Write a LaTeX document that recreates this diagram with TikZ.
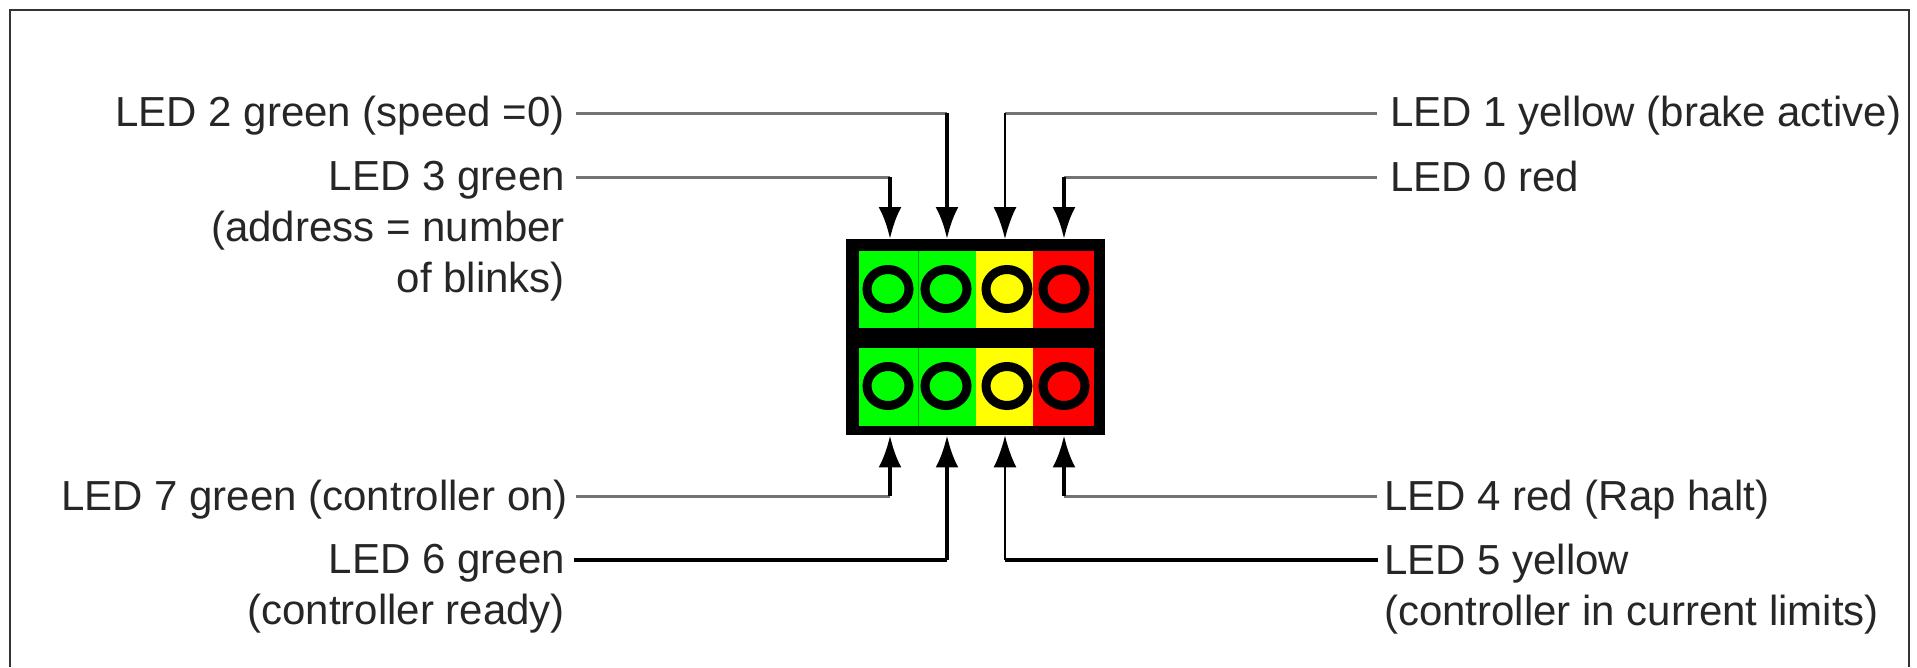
\documentclass[tikz,border=0pt]{standalone}
\usepackage{fontspec}
\setmainfont{Liberation Sans}
\usetikzlibrary{positioning,arrows.meta,shapes.geometric}
\definecolor{ledgreen}{RGB}{0,255,0}
\definecolor{ledyellow}{RGB}{255,255,0}
\definecolor{ledred}{RGB}{255,0,0}
\begin{document}
\begin{tikzpicture}[
	x=1pt, y=-1pt,
	cell/.style={rectangle, draw=none, minimum height=77pt, inner sep=0pt, outer sep=0pt},
	lamp/.style={ellipse, draw=black, line width=9pt, minimum width=42pt, minimum height=39pt, inner sep=0pt},
	lblr/.style={align=right, anchor=north east, inner sep=0pt, font=\fontsize{42}{51}\selectfont, text=black!85},
	lbll/.style={align=left, anchor=north west, inner sep=0pt, font=\fontsize{42}{51}\selectfont, text=black!85},
	wire/.style={draw=black!55, line width=3pt},
	wireb/.style={draw=black, line width=3.5pt},
	tip/.style={draw=black, line width=4.5pt, -{Latex[length=32pt,width=23pt]}},
	tipthin/.style={tip, line width=2.5pt}
	]
	\useasboundingbox (0,0) rectangle (1917,667);
	\draw [line width=2pt, draw=black!80] (10,667) -- (10,10) -- (1909,10) -- (1909,667);
	% housing
	\node (block) [rectangle, fill=black, minimum width=259pt, minimum height=196pt, inner sep=0pt, anchor=north west] at (846,239) {};
	% cells, top row then bottom row
	\foreach \r/\yy/\hh in {t/251/77, b/348/78} {
		\node (\r3) [cell, fill=ledgreen, minimum width=59pt, minimum height=\hh pt, anchor=north west] at (859,\yy) {};
		\node (\r2) [cell, fill=ledgreen, minimum width=58pt, minimum height=\hh pt, right=0pt of \r3] {};
		\node (\r1) [cell, fill=ledyellow, minimum width=57pt, minimum height=\hh pt, right=0pt of \r2] {};
		\node (\r0) [cell, fill=ledred, minimum width=61pt, minimum height=\hh pt, right=0pt of \r1] {};
		\draw [green!65!black, line width=1pt] (\r3.north east) -- (\r3.south east);
	}
	\foreach \r/\yy in {t/289, b/386} {
		\node (\r l3) [lamp, fill=ledgreen] at (888,\yy) {};
		\node (\r l2) [lamp, fill=ledgreen] at (946,\yy) {};
		\node (\r l1) [lamp, fill=ledyellow] at (1007,\yy) {};
		\node (\r l0) [lamp, fill=ledred] at (1064,\yy) {};
	}
	% labels
	\node (led2) [lblr] at (565,96) {LED 2 green (speed =0)};
	\node (led3) [lblr] at (565,161) {LED 3 green\\(address = number\\of blinks)};
	\node (led7) [lblr] at (568,480) {LED 7 green (controller on)};
	\node (led6) [lblr] at (565,544) {LED 6 green\\(controller ready)};
	\node (led1) [lbll] at (1390,96) {LED 1 yellow (brake active)};
	\node (led0) [lbll] at (1390,161) {LED 0 red};
	\node (led4) [lbll] at (1384,480) {LED 4 red (Rap halt)};
	\node (led5) [lbll] at (1384,544) {LED 5 yellow\\(controller in current limits)};
	% wire ends
	\coordinate (w2) at (576,113);
	\coordinate (w3) at (576,177);
	\coordinate (w7) at (576,496);
	\coordinate (w6) at (574,560);
	\coordinate (w1) at (1377,113);
	\coordinate (w0) at (1377,177);
	\coordinate (w4) at (1377,496);
	\coordinate (w5) at (1378,560);
	\coordinate (k2) at (947,113);
	\coordinate (k3) at (890,177);
	\coordinate (k7) at (890,496);
	\coordinate (k6) at (947,560);
	\coordinate (k1) at (1005,113);
	\coordinate (k0) at (1064,177);
	\coordinate (k4) at (1064,496);
	\coordinate (k5) at (1005,560);
	\foreach \n in {2,3,7,1,0,4}
		\draw [wire] (w\n) -- (k\n);
	\foreach \n in {6,5}
		\draw [wireb] (w\n) -- (k\n);
	\foreach \n in {2,3,0}
		\draw [tip] (k\n) -- (k\n |- block.north);
	\draw [tipthin] (k1) -- (k1 |- block.north);
	\foreach \n in {7,6,4}
		\draw [tip] (k\n) -- (k\n |- block.south);
	\draw [tipthin] (k5) -- (k5 |- block.south);
\end{tikzpicture}
\end{document}
